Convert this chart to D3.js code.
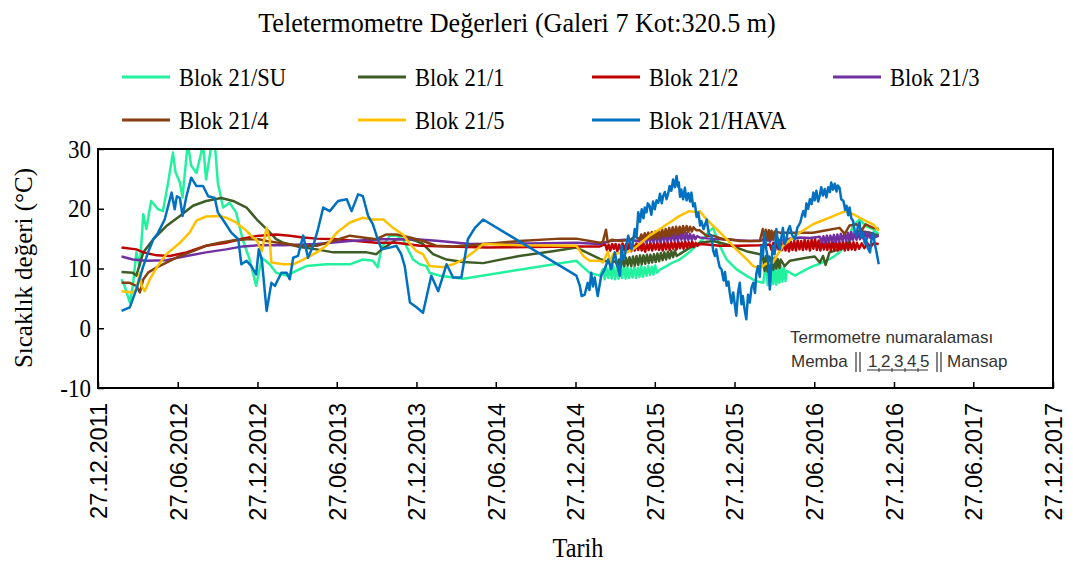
<!DOCTYPE html>
<html>
<head>
<meta charset="utf-8">
<script src="https://cdn.jsdelivr.net/npm/d3@7"></script>
<style>
  body { margin: 0; background: #fff; }
  .serif { font-family: "Liberation Serif", "Times New Roman", serif; }
</style>
</head>
<body>
<div id="chart"></div>
<script>
// chart data
const seriesNames = ["Blok 21/SU", "Blok 21/1", "Blok 21/2", "Blok 21/3", "Blok 21/4", "Blok 21/5", "Blok 21/HAVA"];
const seriesColors = ["#22F29E", "#3E5C25", "#C00000", "#7030A0", "#86400F", "#FFC000", "#0070C0"];
const xTickLabels = ["27.12.2011", "27.06.2012", "27.12.2012", "27.06.2013", "27.12.2013", "27.06.2014", "27.12.2014",
                     "27.06.2015", "27.12.2015", "27.06.2016", "27.12.2016", "27.06.2017", "27.12.2017"];
const yTicks = [-10, 0, 10, 20, 30];
const noteDigits = ["1", "2", "3", "4", "5"];

const suData = [["2012-02-19",8.2],["2012-02-26",7.1],["2012-03-09",4.3],["2012-03-16",7.1],["2012-03-24",12.7],["2012-04-01",10.4],
  ["2012-04-09",19.1],["2012-04-16",16.6],["2012-04-27",21.3],["2012-05-13",19.9],["2012-05-24",19.6],["2012-06-05",24.4],["2012-06-16",29.4],
  ["2012-06-22",26.1],["2012-07-02",24.4],["2012-07-08",21.9],["2012-07-20",31.0],["2012-07-28",27.2],["2012-08-09",26.0],["2012-08-20",29.4],
  ["2012-08-24",31.0],["2012-08-31",24.9],["2012-09-12",30.5],["2012-09-20",31.0],["2012-09-27",24.4],["2012-10-09",20.2],["2012-10-24",21.0],
  ["2012-11-08",19.4],["2012-11-23",14.9],["2012-12-09",11.5],["2012-12-24",7.1],["2013-01-06",11.8],["2013-01-24",10.7],["2013-02-08",9.3],
  ["2013-03-04",8.8],["2013-03-26",9.6],["2013-04-18",10.4],["2013-06-03",10.7],["2013-07-27",10.7],["2013-08-26",11.5],["2013-09-18",11.3],
  ["2013-09-29",10.2],["2013-10-08",13.5],["2013-10-27",15.5],["2013-11-11",15.5],["2013-11-26",14.9],["2013-12-19",11.5],["2014-01-04",10.7],
  ["2014-01-19",10.4],["2014-01-26",9.3],["2014-02-18",8.8],["2014-04-13",8.3],["2014-12-29",11.3],["2015-01-14",10.2],["2015-01-28",9.3],
  ["2015-02-21",8.8],["2015-02-28",9.9],["2015-03-04",8.2],["2015-03-08",10.1],["2015-03-12",8.4],["2015-03-16",10.3],["2015-03-20",8.3],
  ["2015-03-24",10.4],["2015-03-28",8.2],["2015-04-01",10.0],["2015-04-05",8.3],["2015-04-09",10.3],["2015-04-13",8.4],["2015-04-17",10.5],
  ["2015-04-21",8.3],["2015-04-25",10.2],["2015-04-29",8.4],["2015-05-03",10.0],["2015-05-07",8.5],["2015-05-11",10.3],["2015-05-15",8.4],
  ["2015-05-19",10.1],["2015-05-23",8.6],["2015-05-27",10.4],["2015-05-31",8.6],["2015-06-04",10.2],["2015-06-08",8.8],["2015-06-12",10.4],
  ["2015-06-16",8.9],["2015-06-20",10.3],["2015-06-24",9.0],["2015-06-28",10.5],["2015-07-02",9.3],["2015-07-09",9.8],["2015-07-24",10.4],
  ["2015-08-07",11.0],["2015-08-23",11.5],["2015-09-14",12.7],["2015-09-30",13.8],["2015-10-15",14.9],["2015-10-31",16.3],["2015-11-08",16.8],
  ["2015-11-23",13.8],["2015-12-09",11.5],["2015-12-31",9.9],["2016-01-23",8.8],["2016-02-14",7.9],["2016-03-02",7.6],["2016-03-08",11.0],
  ["2016-03-12",7.2],["2016-03-15",10.1],["2016-03-18",7.1],["2016-03-21",10.5],["2016-03-25",7.4],["2016-03-28",10.0],["2016-04-01",7.3],
  ["2016-04-04",9.8],["2016-04-08",7.6],["2016-04-11",10.4],["2016-04-15",7.8],["2016-04-18",10.2],["2016-04-22",7.9],["2016-04-25",9.6],
  ["2016-05-02",9.3],["2016-05-14",8.8],["2016-05-26",9.3],["2016-06-10",9.9],["2016-06-24",10.4],["2016-07-10",10.8],["2016-07-25",11.3],
  ["2016-08-09",11.9],["2016-08-24",12.7],["2016-09-09",14.3],["2016-09-24",17.1],["2016-10-09",18.2],["2016-10-24",17.1],["2016-11-09",16.6],
  ["2016-11-22",15.7]];

const blok1Data = [["2012-02-19",9.4],["2012-03-16",9.3],["2012-03-24",8.8],["2012-04-09",12.7],["2012-05-02",14.9],["2012-06-01",17.1],
  ["2012-07-02",18.8],["2012-08-01",20.5],["2012-08-31",21.3],["2012-10-05",21.8],["2012-11-01",21.3],["2012-12-02",20.2],["2012-12-09",19.6],
  ["2012-12-28",18.0],["2013-01-17",16.6],["2013-02-08",14.9],["2013-02-24",14.3],["2013-04-03",13.6],["2013-05-12",13.2],["2013-06-19",12.7],
  ["2013-07-27",12.7],["2013-09-04",12.7],["2013-09-26",12.4],["2013-10-08",13.2],["2013-10-27",14.1],["2013-11-11",14.9],["2013-12-12",14.9],
  ["2013-12-27",14.6],["2014-01-11",14.1],["2014-02-03",12.4],["2014-03-06",11.5],["2014-04-13",11.1],["2014-05-29",10.9],["2014-08-20",12.1],
  ["2014-11-05",12.9],["2014-12-29",13.5],["2015-01-21",12.7],["2015-02-21",11.6],["2015-03-15",11.0],["2015-03-29",11.2],["2015-04-02",10.4],
  ["2015-04-06",11.5],["2015-04-10",10.3],["2015-04-14",11.7],["2015-04-18",10.4],["2015-04-22",11.8],["2015-04-26",10.5],["2015-04-30",11.9],
  ["2015-05-04",10.4],["2015-05-08",12.0],["2015-05-12",10.5],["2015-05-16",12.1],["2015-05-20",10.6],["2015-05-24",12.2],["2015-05-28",10.7],
  ["2015-06-01",12.2],["2015-06-05",10.8],["2015-06-09",12.3],["2015-06-13",10.9],["2015-06-17",12.3],["2015-06-21",11.0],["2015-06-25",12.4],
  ["2015-06-29",11.1],["2015-07-03",12.5],["2015-07-07",11.2],["2015-07-11",12.6],["2015-07-15",11.4],["2015-07-19",12.7],["2015-07-23",11.5],
  ["2015-07-27",12.8],["2015-07-31",11.7],["2015-08-04",12.9],["2015-08-08",11.9],["2015-08-12",13.0],["2015-08-16",12.1],["2015-08-23",12.4],
  ["2015-09-14",13.4],["2015-10-08",14.3],["2015-11-08",14.6],["2015-12-16",13.9],["2016-01-23",12.9],["2016-02-23",12.4],["2016-03-01",12.2],
  ["2016-03-05",9.6],["2016-03-08",12.1],["2016-03-12",9.5],["2016-03-15",12.0],["2016-03-18",9.7],["2016-03-21",11.9],["2016-03-25",9.8],
  ["2016-03-28",11.8],["2016-04-01",10.0],["2016-04-04",11.6],["2016-04-08",10.1],["2016-04-11",11.5],["2016-04-20",10.4],["2016-05-02",11.3],
  ["2016-06-09",11.8],["2016-06-28",12.0],["2016-07-10",11.0],["2016-07-17",12.1],["2016-07-23",10.6],["2016-08-01",12.7],["2016-08-24",13.2],
  ["2016-09-09",13.8],["2016-09-24",15.5],["2016-10-09",16.3],["2016-11-02",16.0],["2016-11-22",15.5]];

const blok2Data = [["2012-02-19",13.5],["2012-03-24",13.2],["2012-04-09",12.7],["2012-05-10",12.2],["2012-06-09",12.1],["2012-07-17",12.7],
  ["2012-08-31",13.8],["2012-10-16",14.3],["2012-11-16",14.9],["2012-12-16",15.3],["2013-01-01",15.5],["2013-02-08",15.7],["2013-03-11",15.5],
  ["2013-04-11",15.2],["2013-05-12",15.0],["2013-06-27",14.9],["2013-08-12",14.6],["2013-09-26",14.3],["2013-11-11",14.3],["2014-01-04",13.8],
  ["2014-06-05",13.5],["2014-12-29",13.7],["2015-02-21",13.7],["2015-03-05",14.1],["2015-03-09",13.1],["2015-03-13",14.0],["2015-03-17",13.0],
  ["2015-03-21",14.1],["2015-03-25",13.3],["2015-03-29",14.1],["2015-04-02",12.9],["2015-04-06",14.0],["2015-04-10",13.1],["2015-04-14",14.2],
  ["2015-04-18",13.0],["2015-04-22",14.1],["2015-04-26",13.2],["2015-04-30",14.2],["2015-05-04",12.9],["2015-05-08",14.1],["2015-05-12",13.0],
  ["2015-05-16",14.2],["2015-05-20",13.1],["2015-05-24",14.3],["2015-05-28",13.0],["2015-06-01",14.2],["2015-06-05",12.8],["2015-06-09",14.2],
  ["2015-06-13",13.1],["2015-06-17",14.3],["2015-06-21",13.0],["2015-06-25",14.2],["2015-06-29",13.2],["2015-07-03",14.3],["2015-07-07",13.1],
  ["2015-07-11",14.3],["2015-07-15",13.0],["2015-07-19",14.4],["2015-07-23",13.2],["2015-07-27",14.3],["2015-07-31",13.1],["2015-08-04",14.4],
  ["2015-08-08",13.3],["2015-08-12",14.4],["2015-08-16",13.2],["2015-08-20",14.5],["2015-08-24",13.4],["2015-08-28",14.4],["2015-09-01",13.3],
  ["2015-09-05",14.5],["2015-09-09",13.5],["2015-09-13",14.4],["2015-09-17",13.6],["2015-09-21",14.5],["2015-09-25",13.6],["2015-09-29",14.3],
  ["2015-10-03",13.8],["2015-10-08",14.1],["2015-10-24",14.0],["2015-11-23",13.8],["2016-01-08",13.8],["2016-02-23",13.9],["2016-03-17",14.0],
  ["2016-03-21",13.1],["2016-03-25",14.3],["2016-03-29",13.0],["2016-04-02",14.4],["2016-04-06",13.2],["2016-04-10",14.5],["2016-04-14",13.1],
  ["2016-04-18",14.4],["2016-04-22",13.0],["2016-04-26",14.6],["2016-04-30",12.9],["2016-05-04",14.5],["2016-05-08",13.1],["2016-05-12",14.6],
  ["2016-05-16",13.0],["2016-05-20",14.7],["2016-05-24",13.2],["2016-05-28",14.6],["2016-06-01",13.1],["2016-06-05",14.8],["2016-06-09",13.2],
  ["2016-06-13",14.7],["2016-06-17",13.0],["2016-06-21",14.8],["2016-06-25",13.3],["2016-06-29",14.9],["2016-07-03",13.1],["2016-07-07",14.7],
  ["2016-07-11",13.0],["2016-07-15",14.6],["2016-07-19",13.2],["2016-07-23",14.5],["2016-07-27",13.1],["2016-07-31",14.6],["2016-08-04",13.0],
  ["2016-08-08",14.5],["2016-08-12",13.1],["2016-08-16",14.6],["2016-08-20",13.0],["2016-08-24",14.4],["2016-08-28",13.2],["2016-09-01",14.5],
  ["2016-09-05",13.0],["2016-09-09",14.4],["2016-09-13",13.1],["2016-09-17",14.3],["2016-09-21",13.2],["2016-09-25",14.4],["2016-09-29",13.1],
  ["2016-10-03",14.3],["2016-10-08",13.3],["2016-10-14",14.2],["2016-10-20",13.4],["2016-10-27",14.2],["2016-11-03",13.6],["2016-11-10",14.2],
  ["2016-11-22",14.1]];

const blok3Data = [["2012-02-19",12.0],["2012-03-16",11.5],["2012-04-16",11.3],["2012-06-01",11.4],["2012-07-17",12.1],["2012-08-31",12.7],
  ["2012-10-16",13.2],["2012-11-23",13.7],["2012-12-30",13.9],["2013-02-24",13.9],["2013-05-12",14.1],["2013-07-27",14.6],["2013-10-12",14.9],
  ["2013-12-27",14.9],["2014-02-18",14.6],["2014-04-29",14.1],["2014-09-13",14.2],["2014-12-29",14.3],["2015-02-21",14.1],["2015-03-15",14.6],
  ["2015-04-19",14.8],["2015-05-23",14.6],["2015-05-27",15.5],["2015-05-31",14.4],["2015-06-04",15.6],["2015-06-08",14.3],["2015-06-12",15.7],
  ["2015-06-16",14.5],["2015-06-20",15.6],["2015-06-24",14.4],["2015-06-28",15.8],["2015-07-02",14.5],["2015-07-06",15.7],["2015-07-10",14.4],
  ["2015-07-14",15.9],["2015-07-18",14.6],["2015-07-22",15.8],["2015-07-26",14.5],["2015-07-30",16.0],["2015-08-03",14.6],["2015-08-07",15.9],
  ["2015-08-11",14.7],["2015-08-15",16.0],["2015-08-19",14.6],["2015-08-23",16.1],["2015-08-27",14.8],["2015-08-31",16.0],["2015-09-04",14.7],
  ["2015-09-08",15.9],["2015-09-12",14.8],["2015-09-16",15.8],["2015-09-20",14.8],["2015-09-24",15.6],["2015-09-28",14.9],["2015-10-02",15.4],
  ["2015-10-08",15.2],["2015-10-31",15.0],["2015-12-16",14.8],["2016-01-31",14.6],["2016-02-28",14.7],["2016-03-08",15.5],["2016-03-17",14.5],
  ["2016-03-28",15.6],["2016-04-09",14.6],["2016-05-02",15.0],["2016-05-25",15.2],["2016-06-17",15.1],["2016-07-10",15.3],["2016-07-14",14.4],
  ["2016-07-18",15.4],["2016-07-22",14.3],["2016-07-26",15.5],["2016-07-30",14.4],["2016-08-03",15.5],["2016-08-07",14.5],["2016-08-11",15.6],
  ["2016-08-15",14.4],["2016-08-19",15.7],["2016-08-23",14.5],["2016-08-27",15.8],["2016-08-31",14.6],["2016-09-04",15.9],["2016-09-08",14.6],
  ["2016-09-12",16.0],["2016-09-16",14.7],["2016-09-20",16.1],["2016-09-24",14.8],["2016-09-28",16.2],["2016-10-02",14.8],["2016-10-06",16.1],
  ["2016-10-10",14.9],["2016-10-14",16.2],["2016-10-18",15.0],["2016-10-22",16.1],["2016-10-26",15.0],["2016-10-30",16.0],["2016-11-03",15.1],
  ["2016-11-08",15.9],["2016-11-13",15.2],["2016-11-22",15.5]];

const blok4Data = [["2012-02-19",7.6],["2012-03-09",7.6],["2012-03-24",7.1],["2012-04-01",6.0],["2012-04-09",8.2],["2012-04-20",9.3],
  ["2012-05-10",10.2],["2012-06-01",11.0],["2012-07-02",12.1],["2012-08-01",12.9],["2012-08-31",13.8],["2012-10-01",14.3],["2012-11-01",14.7],
  ["2012-12-02",14.9],["2012-12-30",14.9],["2013-01-17",14.6],["2013-02-24",14.2],["2013-04-03",13.8],["2013-05-12",13.8],["2013-06-19",14.6],
  ["2013-07-27",15.5],["2013-08-26",15.2],["2013-09-26",14.9],["2013-10-19",15.7],["2013-11-11",15.7],["2013-12-12",15.2],["2014-01-11",14.6],
  ["2014-02-10",13.8],["2014-03-21",13.7],["2014-06-05",14.1],["2014-08-20",14.6],["2014-11-22",15.0],["2014-12-29",15.0],["2015-02-21",14.3],
  ["2015-02-28",14.5],["2015-03-07",16.5],["2015-03-11",14.4],["2015-03-20",14.8],["2015-04-08",14.6],["2015-05-01",14.8],["2015-05-14",15.4],
  ["2015-05-23",14.8],["2015-05-27",15.7],["2015-05-31",14.9],["2015-06-04",15.9],["2015-06-08",15.0],["2015-06-12",16.0],["2015-06-16",14.9],
  ["2015-06-20",16.1],["2015-06-24",15.1],["2015-06-28",16.2],["2015-07-02",15.0],["2015-07-06",16.4],["2015-07-10",15.2],["2015-07-14",16.5],
  ["2015-07-18",15.3],["2015-07-22",16.6],["2015-07-26",15.4],["2015-07-30",16.8],["2015-08-03",15.5],["2015-08-07",16.9],["2015-08-11",15.6],
  ["2015-08-15",17.0],["2015-08-19",15.7],["2015-08-23",17.0],["2015-08-27",15.9],["2015-08-31",17.1],["2015-09-04",16.0],["2015-09-08",17.1],
  ["2015-09-12",16.1],["2015-09-16",17.0],["2015-09-20",16.2],["2015-09-24",16.9],["2015-09-30",16.4],["2015-10-08",16.4],["2015-10-24",15.5],
  ["2015-11-08",15.5],["2015-12-01",14.9],["2015-12-16",14.9],["2016-01-08",14.6],["2016-01-23",14.6],["2016-02-23",14.6],["2016-03-01",16.6],
  ["2016-03-04",14.8],["2016-03-08",16.5],["2016-03-11",14.7],["2016-03-15",16.4],["2016-03-18",14.9],["2016-03-21",16.3],["2016-03-25",14.8],
  ["2016-03-28",16.2],["2016-04-09",16.0],["2016-05-02",16.0],["2016-05-25",16.0],["2016-06-24",16.0],["2016-07-25",16.4],["2016-08-24",16.8],
  ["2016-09-05",15.8],["2016-09-16",17.2],["2016-10-02",17.4],["2016-10-14",16.4],["2016-10-23",17.4],["2016-11-09",16.8],["2016-11-22",16.6]];

const blok5Data = [["2012-02-19",6.2],["2012-03-16",6.0],["2012-03-24",6.5],["2012-04-01",9.3],["2012-04-05",7.1],["2012-04-12",6.2],
  ["2012-04-24",8.2],["2012-05-10",10.2],["2012-06-01",12.4],["2012-07-02",14.3],["2012-07-24",16.0],["2012-08-09",18.0],["2012-08-31",18.7],
  ["2012-10-01",18.8],["2012-10-16",18.5],["2012-11-08",17.7],["2012-12-02",16.3],["2012-12-16",15.2],["2012-12-24",14.9],["2013-01-06",12.9],
  ["2013-01-17",16.8],["2013-01-24",14.9],["2013-01-28",11.0],["2013-02-24",10.7],["2013-03-19",10.7],["2013-04-11",11.5],["2013-05-12",12.7],
  ["2013-06-03",13.8],["2013-06-27",16.0],["2013-07-27",17.7],["2013-08-26",18.5],["2013-09-18",18.2],["2013-10-12",18.2],["2013-11-03",16.8],
  ["2013-11-26",15.7],["2013-12-12",14.1],["2013-12-27",12.9],["2014-01-11",12.4],["2014-01-26",10.4],["2014-02-26",10.2],["2014-03-21",10.7],
  ["2014-04-13",11.5],["2014-05-06",12.7],["2014-05-29",14.1],["2014-08-20",13.9],["2014-12-29",13.8],["2015-01-14",12.1],["2015-01-28",11.3],
  ["2015-02-21",11.3],["2015-02-28",11.0],["2015-03-11",12.8],["2015-03-18",11.0],["2015-03-23",12.4],["2015-04-08",12.6],["2015-04-24",12.7],
  ["2015-05-08",13.2],["2015-05-23",14.1],["2015-06-15",15.5],["2015-07-09",16.6],["2015-07-31",17.7],["2015-08-23",18.8],["2015-09-14",19.6],
  ["2015-09-30",19.4],["2015-10-08",19.6],["2015-10-24",18.2],["2015-11-16",16.6],["2015-12-09",14.9],["2015-12-31",13.2],["2016-01-23",11.6],
  ["2016-02-08",10.4],["2016-02-23",10.0],["2016-03-08",10.8],["2016-03-24",11.0],["2016-04-16",13.8],["2016-05-18",15.7],["2016-06-24",17.4],
  ["2016-08-01",18.5],["2016-09-06",19.6],["2016-09-24",19.1],["2016-10-17",18.2],["2016-11-09",17.4],["2016-11-22",16.3]];

const havaData = [["2012-02-19",2.9],["2012-03-09",3.5],["2012-03-24",6.5],["2012-04-09",10.4],["2012-04-20",12.7],["2012-05-02",14.9],
  ["2012-05-13",16.0],["2012-05-28",18.2],["2012-06-13",22.7],["2012-06-20",19.9],["2012-06-25",22.1],["2012-07-02",21.8],["2012-07-08",18.8],
  ["2012-07-17",22.1],["2012-07-28",25.2],["2012-08-09",23.8],["2012-08-24",23.8],["2012-09-05",22.1],["2012-09-20",21.8],["2012-09-27",19.4],
  ["2012-10-13",17.7],["2012-10-28",16.0],["2012-11-13",14.9],["2012-11-20",10.7],["2012-12-02",11.3],["2012-12-13",10.4],["2012-12-24",9.0],
  ["2012-12-30",13.2],["2013-01-06",11.5],["2013-01-17",2.9],["2013-01-28",7.6],["2013-02-05",7.1],["2013-02-20",9.3],["2013-03-04",9.3],
  ["2013-03-11",8.2],["2013-03-19",11.8],["2013-03-30",12.1],["2013-04-11",15.5],["2013-04-22",11.8],["2013-05-04",13.8],["2013-05-15",16.6],
  ["2013-05-27",20.2],["2013-06-11",19.6],["2013-06-30",21.3],["2013-07-20",21.6],["2013-07-31",19.6],["2013-08-15",22.4],["2013-08-26",22.1],
  ["2013-09-07",18.8],["2013-09-18",17.4],["2013-09-29",14.9],["2013-10-08",13.2],["2013-10-27",13.5],["2013-11-11",13.8],["2013-11-22",12.4],
  ["2013-11-30",10.4],["2013-12-12",4.3],["2013-12-27",3.5],["2014-01-11",2.6],["2014-01-30",8.8],["2014-02-15",6.2],["2014-03-06",10.7],
  ["2014-03-21",8.5],["2014-04-09",8.5],["2014-04-24",14.9],["2014-05-10",16.8],["2014-05-29",18.2],["2014-12-29",8.8],["2015-01-06",7.1],
  ["2015-01-10",5.4],["2015-01-17",5.6],["2015-01-24",7.6],["2015-01-28",6.4],["2015-02-01",9.3],["2015-02-05",7.0],["2015-02-09",8.5],
  ["2015-02-16",5.4],["2015-02-24",8.8],["2015-03-04",9.9],["2015-03-12",11.5],["2015-03-19",9.9],["2015-03-27",12.7],["2015-04-04",9.9],
  ["2015-04-08",8.8],["2015-04-12",13.8],["2015-04-15",11.5],["2015-04-19",12.1],["2015-04-27",15.5],["2015-05-05",13.2],["2015-05-09",15.0],
  ["2015-05-12",16.6],["2015-05-16",15.2],["2015-05-20",19.4],["2015-05-24",17.8],["2015-05-28",19.9],["2015-06-01",18.4],["2015-06-04",20.2],
  ["2015-06-08",19.4],["2015-06-11",20.9],["2015-06-15",20.5],["2015-06-19",19.0],["2015-06-23",21.2],["2015-06-27",19.9],["2015-07-01",21.4],
  ["2015-07-05",21.0],["2015-07-09",22.5],["2015-07-13",20.9],["2015-07-16",22.1],["2015-07-20",22.8],["2015-07-24",21.6],["2015-07-28",22.6],
  ["2015-07-31",23.8],["2015-08-04",23.0],["2015-08-08",24.9],["2015-08-12",23.6],["2015-08-16",25.5],["2015-08-19",23.7],["2015-08-21",24.4],
  ["2015-08-24",22.0],["2015-08-27",23.2],["2015-08-31",21.6],["2015-09-04",23.5],["2015-09-08",21.4],["2015-09-12",22.6],["2015-09-16",21.2],
  ["2015-09-19",22.7],["2015-09-23",20.4],["2015-09-27",20.9],["2015-10-01",18.6],["2015-10-05",19.4],["2015-10-09",17.2],["2015-10-12",17.9],
  ["2015-10-17",16.6],["2015-10-24",18.2],["2015-10-29",15.8],["2015-11-04",15.5],["2015-11-08",13.0],["2015-11-12",12.1],["2015-11-15",13.2],
  ["2015-11-19",11.5],["2015-11-23",10.2],["2015-11-27",9.9],["2015-12-02",8.0],["2015-12-05",9.4],["2015-12-09",7.1],["2015-12-13",7.8],
  ["2015-12-16",6.0],["2015-12-20",4.2],["2015-12-24",6.0],["2015-12-28",3.8],["2015-12-31",2.1],["2016-01-04",5.9],["2016-01-08",7.6],
  ["2016-01-12",4.0],["2016-01-15",5.4],["2016-01-19",3.2],["2016-01-23",1.5],["2016-01-27",5.6],["2016-01-31",4.3],["2016-02-04",6.8],
  ["2016-02-08",7.6],["2016-02-12",5.9],["2016-02-15",9.1],["2016-02-19",10.4],["2016-02-23",8.6],["2016-02-27",13.8],["2016-03-01",12.0],
  ["2016-03-05",16.0],["2016-03-09",13.2],["2016-03-13",11.5],["2016-03-17",6.5],["2016-03-21",11.4],["2016-03-24",13.8],["2016-03-28",12.4],
  ["2016-04-01",16.6],["2016-04-05",14.2],["2016-04-09",13.2],["2016-04-13",15.4],["2016-04-16",16.8],["2016-04-20",14.1],["2016-04-24",14.9],
  ["2016-04-28",16.4],["2016-05-02",17.1],["2016-05-07",15.6],["2016-05-14",14.9],["2016-05-19",16.8],["2016-05-26",17.7],["2016-05-30",18.9],
  ["2016-06-02",19.6],["2016-06-06",18.7],["2016-06-09",20.9],["2016-06-13",20.0],["2016-06-17",21.6],["2016-06-21",20.8],["2016-06-25",22.7],
  ["2016-06-28",21.4],["2016-07-02",23.0],["2016-07-06",21.2],["2016-07-10",22.3],["2016-07-13",23.6],["2016-07-17",22.2],["2016-07-21",23.3],
  ["2016-07-25",21.9],["2016-07-29",23.6],["2016-08-02",22.8],["2016-08-05",24.4],["2016-08-09",23.2],["2016-08-13",24.2],["2016-08-17",22.9],
  ["2016-08-20",23.9],["2016-08-24",23.5],["2016-08-28",21.6],["2016-09-02",21.3],["2016-09-06",19.8],["2016-09-09",20.5],["2016-09-13",18.9],
  ["2016-09-16",20.2],["2016-09-20",18.4],["2016-09-24",18.0],["2016-09-28",16.2],["2016-10-02",15.5],["2016-10-05",17.0],["2016-10-09",17.7],
  ["2016-10-13",15.2],["2016-10-17",16.0],["2016-10-21",14.2],["2016-10-24",14.9],["2016-10-28",13.4],["2016-11-02",12.7],["2016-11-05",14.6],
  ["2016-11-09",16.0],["2016-11-13",14.1],["2016-11-17",12.7],["2016-11-22",10.7]];

const allSeries = [suData, blok1Data, blok2Data, blok3Data, blok4Data, blok5Data, havaData];

// frame and plot area
const FRAME_WIDTH = 1073;
const FRAME_HEIGHT = 565;
const PLOT = {left: 98, right: 1053, top: 149, bottom: 388};

const parseDate = d3.timeParse("%Y-%m-%d");
const parseTick = d3.timeParse("%d.%m.%Y");
const tickDates = xTickLabels.map(parseTick);

const SVG = d3.select("#chart")
    .append("svg")
    .attr("width", FRAME_WIDTH)
    .attr("height", FRAME_HEIGHT);

const X_SCALE = d3.scaleTime()
    .domain([tickDates[0], tickDates[tickDates.length - 1]])
    .range([PLOT.left, PLOT.right]);
const Y_SCALE = d3.scaleLinear()
    .domain([-10, 30])
    .range([PLOT.bottom, PLOT.top]);

// the serif text in the picture is a bit narrow, so squeeze it sideways
function squeeze(sel, k) {
    sel.each(function() {
        const w = this.getComputedTextLength();
        d3.select(this)
            .attr("textLength", w * k)
            .attr("lengthAdjust", "spacingAndGlyphs");
    });
}

// title
SVG.append("text")
    .attr("class", "serif")
    .attr("x", 517)
    .attr("y", 32)
    .attr("text-anchor", "middle")
    .attr("font-size", "27.5px")
    .text("Teletermometre Değerleri (Galeri 7 Kot:320.5 m)")
    .call(squeeze, 0.95);

// legend, 4 per row
const LEGEND_COLS = [122, 358, 592, 833];
const LEGEND_ROWS = [77, 120];
seriesNames.forEach((name, i) => {
    const lx = LEGEND_COLS[i % 4];
    const ly = LEGEND_ROWS[Math.floor(i / 4)];
    SVG.append("line")
        .attr("x1", lx).attr("x2", lx + 48)
        .attr("y1", ly).attr("y2", ly)
        .attr("stroke", seriesColors[i])
        .attr("stroke-width", 3);
    SVG.append("text")
        .attr("class", "serif")
        .attr("x", lx + 57)
        .attr("y", ly + 9)
        .attr("font-size", "25px")
        .text(name)
        .call(squeeze, 0.9);
});

// clip so the peaks above 30 are cut at the frame
SVG.append("clipPath")
    .attr("id", "plot-clip")
    .append("rect")
    .attr("x", PLOT.left)
    .attr("y", PLOT.top)
    .attr("width", PLOT.right - PLOT.left)
    .attr("height", PLOT.bottom - PLOT.top);

const LINE = d3.line()
    .x((d) => { return X_SCALE(parseDate(d[0])); })
    .y((d) => { return Y_SCALE(d[1]); });

SVG.append("g")
    .attr("clip-path", "url(#plot-clip)")
    .selectAll("path")
    .data(allSeries)
    .enter()
    .append("path")
    .attr("d", (d) => { return LINE(d); })
    .attr("fill", "none")
    .attr("stroke", (d, i) => { return seriesColors[i]; })
    .attr("stroke-width", 2.5)
    .attr("stroke-linejoin", "round");

// axes, ticks pointing inwards
const xAxis = SVG.append("g")
    .attr("transform", "translate(0," + PLOT.bottom + ")")
    .call(d3.axisBottom(X_SCALE)
        .tickValues(tickDates)
        .tickFormat(d3.timeFormat("%d.%m.%Y"))
        .tickSizeInner(-6)
        .tickSizeOuter(0));
xAxis.select(".domain").remove();
xAxis.selectAll("line").attr("stroke", "#000").attr("stroke-width", 1.5);
xAxis.selectAll("text")
    .attr("transform", "rotate(-90)")
    .attr("text-anchor", "end")
    .attr("x", -15)
    .attr("y", 0)
    .attr("dy", "0.36em")
    .attr("font-family", "'Liberation Sans', Arial, sans-serif")
    .attr("font-size", "23.5px")
    .attr("fill", "#000");

// plain hyphen for the negative tick, as in the picture
const yAxis = SVG.append("g")
    .attr("transform", "translate(" + PLOT.left + ",0)")
    .call(d3.axisLeft(Y_SCALE)
        .tickValues(yTicks)
        .tickFormat((d) => { return String(d); })
        .tickSizeInner(-6)
        .tickSizeOuter(0)
        .tickPadding(7));
yAxis.select(".domain").remove();
yAxis.selectAll("line").attr("stroke", "#000").attr("stroke-width", 1.5);
yAxis.selectAll("text")
    .attr("class", "serif")
    .attr("font-size", "25px")
    .attr("fill", "#000")
    .call(squeeze, 0.92);

// plot frame
SVG.append("rect")
    .attr("x", PLOT.left)
    .attr("y", PLOT.top)
    .attr("width", PLOT.right - PLOT.left)
    .attr("height", PLOT.bottom - PLOT.top)
    .attr("fill", "none")
    .attr("stroke", "#000")
    .attr("stroke-width", 2);

// axis titles
SVG.append("text")
    .attr("class", "serif")
    .attr("transform", "translate(32,268) rotate(-90)")
    .attr("text-anchor", "middle")
    .attr("font-size", "25px")
    .text("Sıcaklık değeri (°C)");
SVG.append("text")
    .attr("class", "serif")
    .attr("x", 578)
    .attr("y", 557)
    .attr("text-anchor", "middle")
    .attr("font-size", "27px")
    .text("Tarih")
    .call(squeeze, 0.9);

// thermometer numbering note
const NOTE = SVG.append("g")
    .attr("font-family", "'Liberation Sans', Arial, sans-serif")
    .attr("font-size", "17px")
    .attr("fill", "#333");
NOTE.append("text").attr("x", 790).attr("y", 343).text("Termometre numaralaması");
NOTE.append("text").attr("x", 791).attr("y", 367).text("Memba");
NOTE.append("text").attr("x", 947).attr("y", 367).text("Mansap");
NOTE.selectAll(".digit")
    .data(noteDigits)
    .enter()
    .append("text")
    .attr("class", "digit")
    .attr("x", (d, i) => { return 868 + i * 13; })
    .attr("y", 367)
    .text((d) => { return d; });
// the double bars and the underline with its small marks
[856, 860, 937, 941].forEach((bx) => {
    NOTE.append("line")
        .attr("x1", bx).attr("x2", bx)
        .attr("y1", 352).attr("y2", 372)
        .attr("stroke", "#333").attr("stroke-width", 1.2);
});
NOTE.append("line")
    .attr("x1", 867).attr("x2", 928)
    .attr("y1", 370).attr("y2", 370)
    .attr("stroke", "#333").attr("stroke-width", 1);
[879, 892, 905, 918].forEach((tx) => {
    NOTE.append("line")
        .attr("x1", tx).attr("x2", tx)
        .attr("y1", 368).attr("y2", 372)
        .attr("stroke", "#333").attr("stroke-width", 1);
});
</script>
</body>
</html>
